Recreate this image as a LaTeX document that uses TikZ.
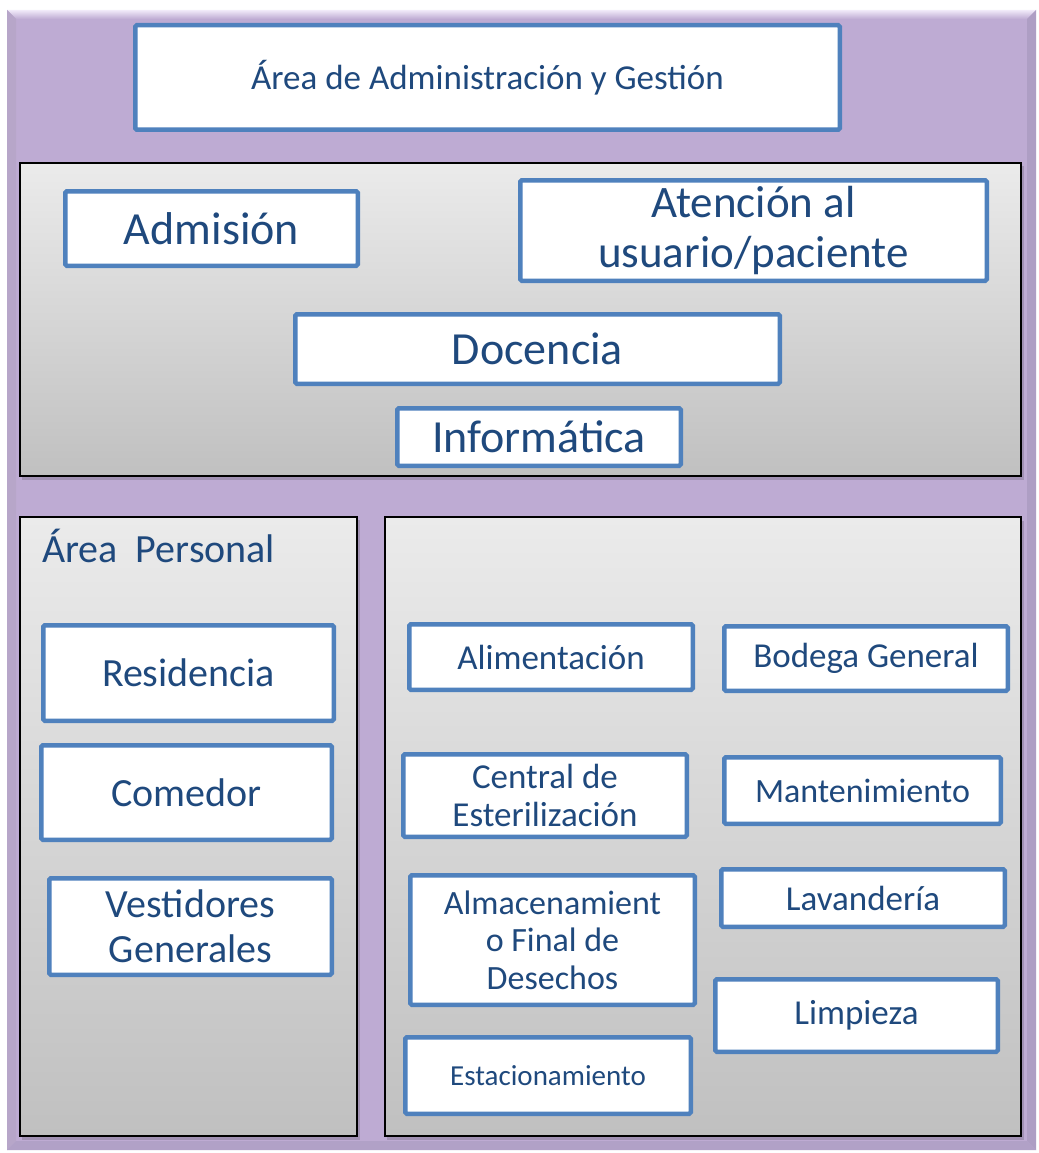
\documentclass[tikz,border=0pt]{standalone}
\usepackage{fontspec}
\setmainfont{Carlito}
\definecolor{marco}{HTML}{BEABD3}
\definecolor{marcoclaro}{HTML}{F1EAF9}
\definecolor{marcooscuro}{HTML}{AE9EC4}
\definecolor{azulborde}{HTML}{4F81BD}
\definecolor{azultexto}{HTML}{1F497D}
\definecolor{grisarriba}{HTML}{EBEBEB}
\definecolor{grisabajo}{HTML}{C0C0C0}

\begin{document}
\begin{tikzpicture}[x=1pt, y=-1pt,
    panel/.style={draw=black, line width=1.6pt, top color=grisarriba, bottom color=grisabajo},
    sombra/.style={fill=black, opacity=0.15},
    unidad/.style={draw=azulborde, line width=4.5pt, fill=white, text=azultexto,
        align=center, inner sep=0pt, rounded corners=1.5pt},
    tam/.style 2 args={font=\fontsize{#1}{#2}\selectfont}]

    \useasboundingbox (0,0) rectangle (1038,1153);
    \fill[white] (0,0) rectangle (1038,1153);

    \fill[marco] (7,10) rectangle (1036,1150);
    \shade[top color=marcoclaro, bottom color=marco] (7,10) -- (1036,10) -- (1027,19) -- (16,19) -- cycle;
    \fill[marco!88!gray] (7,10) -- (16,19) -- (16,1141) -- (7,1150) -- cycle;
    \fill[marcooscuro] (1036,10) -- (1036,1150) -- (1027,1141) -- (1027,19) -- cycle;
    \fill[marcooscuro!80!marco] (7,1150) -- (16,1141) -- (1027,1141) -- (1036,1150) -- cycle;

    \fill[sombra] (22,166) rectangle (1024,480);
    \fill[sombra] (22,520) rectangle (360,1140);
    \fill[sombra] (387,521) rectangle (1024,1140);
    \draw[panel] (20,163) rectangle (1021,476);
    \draw[panel] (20,517) rectangle (357,1136);
    \draw[panel] (385,517) rectangle (1021,1136);

    \node[unidad, tam={35}{38}, minimum width=704.5pt, minimum height=104.5pt] (gestion) at (487.5,77.5) {Área de Administración y Gestión};

    \node[unidad, tam={46}{50}, minimum width=292.5pt, minimum height=74.5pt] (admision) at (211.5,228.5) {Admisión};
    \node[unidad, tam={45}{50}, minimum width=466.5pt, minimum height=100.5pt] (atencion) at (753.5,230.5) {Atención al\\usuario/paciente};
    \node[unidad, tam={46}{50}, minimum width=484.5pt, minimum height=69.5pt] (docencia) at (537.5,349) {Docencia};
    \node[unidad, tam={46}{50}, minimum width=283.5pt, minimum height=57.5pt] (informatica) at (539,437) {Informática};

    \node[anchor=base west, text=azultexto, tam={40}{44}, inner sep=0pt] (personal) at (42,562) {Área\ \ Personal};
    \node[unidad, tam={40}{45}, minimum width=290.5pt, minimum height=95.5pt] (residencia) at (188.5,673) {Residencia};
    \node[unidad, tam={40}{45}, minimum width=290.5pt, minimum height=94.5pt] (comedor) at (186.5,792.5) {Comedor};
    \node[unidad, tam={40}{45}, minimum width=282.5pt, minimum height=96.5pt] (vestidores) at (190.5,926.5) {Vestidores\\Generales};

    \node[unidad, tam={35}{38}, minimum width=283.5pt, minimum height=65.5pt] (alimentacion) at (551,657) {Alimentación};
    \node[unidad, tam={35}{38}, minimum width=283.5pt, minimum height=64.5pt] (bodega) at (866,658.5) {Bodega General};
    \node[unidad, tam={35}{38}, minimum width=283.5pt, minimum height=82.5pt] (central) at (545,795.5) {Central de\\Esterilización};
    \node[unidad, tam={34}{38}, minimum width=276.5pt, minimum height=66.5pt] (mantenimiento) at (862.5,790.5) {Mantenimiento};
    \node[unidad, tam={34}{37.5}, minimum width=284.5pt, minimum height=129.5pt] (desechos) at (552.5,940) {Almacenamient\\o Final de\\Desechos};
    \node[unidad, tam={35}{38}, minimum width=283.5pt, minimum height=57.5pt] (lavanderia) at (863,898) {Lavandería};
    \node[unidad, tam={35}{38}, minimum width=282.5pt, minimum height=72.5pt] (limpieza) at (856.5,1015.5) {Limpieza};
    \node[unidad, tam={29}{32}, minimum width=285.5pt, minimum height=76.5pt] (estacionamiento) at (548,1075.5) {Estacionamiento};
\end{tikzpicture}
\end{document}
